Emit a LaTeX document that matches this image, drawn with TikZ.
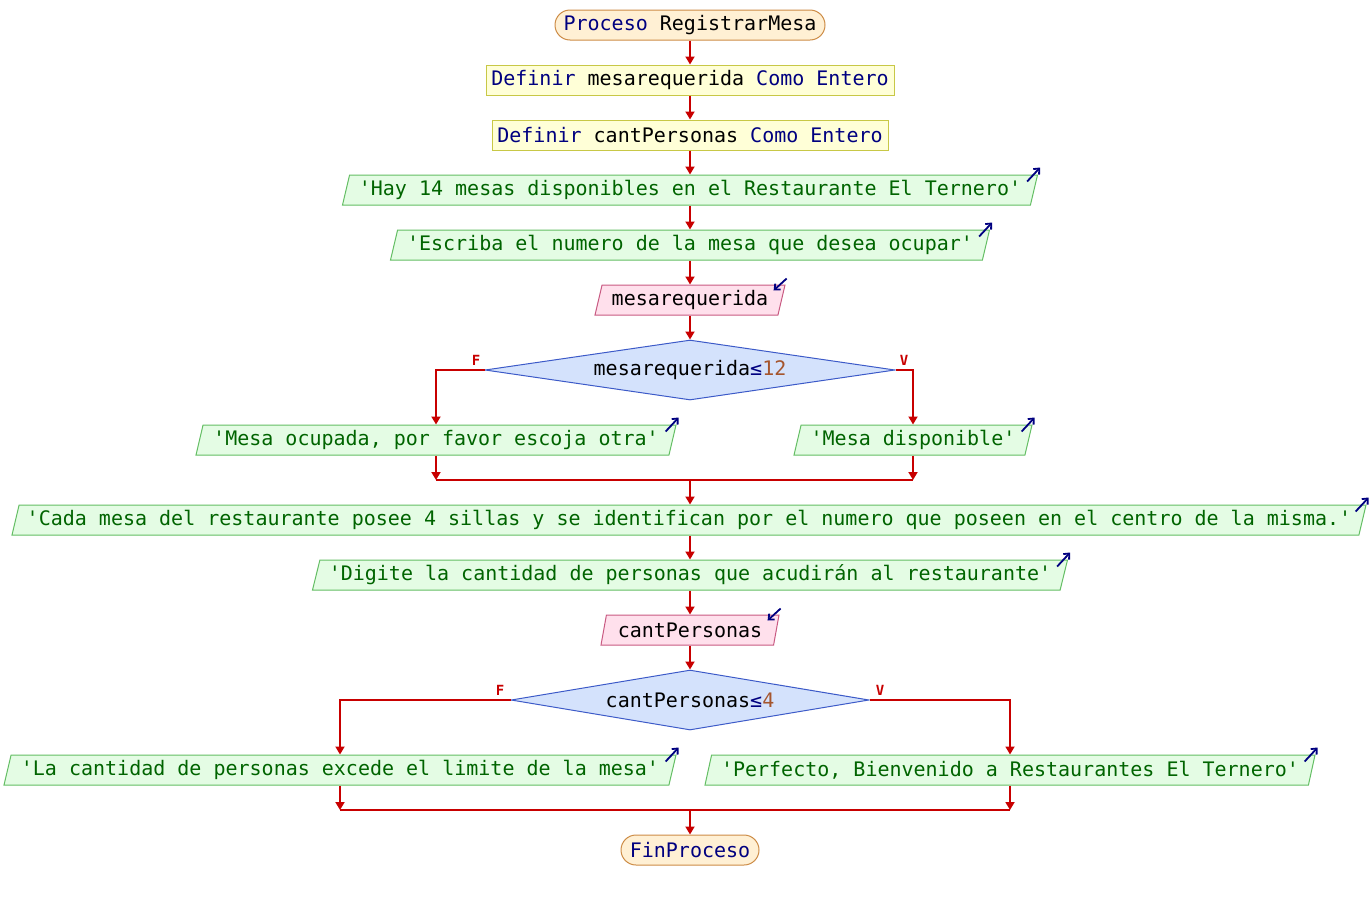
\documentclass[tikz,border=0pt]{standalone}
\usepackage{fontspec}
\usetikzlibrary{shapes.geometric,arrows.meta}
\newfontfamily\flowfont{DejaVu Sans Mono}
\definecolor{kwc}{RGB}{0,0,128}
\definecolor{strc}{RGB}{0,100,0}
\definecolor{numc}{RGB}{165,85,45}
\definecolor{termF}{RGB}{255,240,212}
\definecolor{termB}{RGB}{205,140,70}
\definecolor{defF}{RGB}{255,255,215}
\definecolor{defB}{RGB}{200,200,70}
\definecolor{outF}{RGB}{228,252,228}
\definecolor{outB}{RGB}{100,190,100}
\definecolor{inF}{RGB}{255,224,236}
\definecolor{inB}{RGB}{200,90,130}
\definecolor{condF}{RGB}{212,226,252}
\definecolor{condB}{RGB}{60,90,200}
\definecolor{flowc}{RGB}{200,0,0}
\definecolor{iconc}{RGB}{0,0,128}
\newcommand{\kw}[1]{\textcolor{kwc}{#1}}
\begin{document}
\begin{tikzpicture}[x=1pt,y=-1pt,
  base/.style={font=\flowfont\fontsize{20}{24}\selectfont, inner sep=0pt, minimum height=30pt, line width=1pt},
  term/.style={base, rectangle, draw=termB, fill=termF, rounded corners=15pt},
  defb/.style={base, rectangle, draw=defB, fill=defF},
  para/.style={base, trapezium, trapezium left angle=70, trapezium right angle=110, trapezium stretches body},
  outb/.style={para, draw=outB, fill=outF, text=strc},
  inb/.style={para, draw=inB, fill=inF},
  cond/.style={base, diamond, draw=condB, fill=condF, minimum height=60pt, shape aspect=6},
  flow/.style={draw=flowc, line width=1.8pt, -{Triangle[length=8pt,width=9pt]}},
  seg/.style={draw=flowc, line width=1.8pt},
  icon/.style={draw=iconc, line width=1.8pt, -{Straight Barb[length=4.5pt,width=8pt]}},
  lbl/.style={font=\flowfont\bfseries\fontsize{14}{16}\selectfont, text=flowc, inner sep=0pt}
]
\useasboundingbox (0,0) rectangle (1372,900);

\node[term, minimum width=270pt] (start) at (690,25) {\kw{Proceso} RegistrarMesa};
\node[defb, minimum width=408pt] (def1) at (690,80) {\kw{Definir} mesarequerida \kw{Como} \kw{Entero}};
\node[defb, minimum width=396pt] (def2) at (690,135) {\kw{Definir} cantPersonas \kw{Como} \kw{Entero}};
\node[outb, minimum width=695pt] (hay) at (690,190) {'Hay 14 mesas disponibles en el Restaurante El Ternero'};
\node[outb, minimum width=599pt] (esc) at (690,245) {'Escriba el numero de la mesa que desea ocupar'};
\node[inb, minimum width=190pt] (in1) at (690,300) {mesarequerida};
\node[cond, minimum width=410pt] (c1) at (690,370) {mesarequerida\textcolor{kwc}{≤}\textcolor{numc}{12}};
\node[outb, minimum width=480pt] (o1) at (436,440) {'Mesa ocupada, por favor escoja otra'};
\node[outb, minimum width=238pt] (o2) at (913,440) {'Mesa disponible'};
\node[outb, minimum width=1354pt] (cada) at (689,520) {'Cada mesa del restaurante posee 4 sillas y se identifican por el numero que poseen en el centro de la misma.'};
\node[outb, minimum width=755pt] (dig) at (690,575) {'Digite la cantidad de personas que acudirán al restaurante'};
\node[inb, minimum width=178pt] (in2) at (690,630) {cantPersonas};
\node[cond, minimum width=358pt] (c2) at (690,700) {cantPersonas\textcolor{kwc}{≤}\textcolor{numc}{4}};
\node[outb, minimum width=672pt] (o3) at (340,770) {'La cantidad de personas excede el limite de la mesa'};
\node[outb, minimum width=610pt] (o4) at (1010,770) {'Perfecto, Bienvenido a Restaurantes El Ternero'};
\node[term, minimum width=138pt] (fin) at (690,850) {\kw{FinProceso}};

\node[lbl] (f1) at (476,360) {F};
\node[lbl] (v1) at (904,360) {V};
\node[lbl] (f2) at (500,690) {F};
\node[lbl] (v2) at (880,690) {V};

% output / input icons
\foreach \n in {hay,esc,o1,o2,cada,dig,o3,o4}{
  \draw[icon] ([xshift=-11pt,yshift=-7pt]\n.top right corner) -- ++(13,-14);
}
\foreach \n in {in1,in2}{
  \draw[icon] ([xshift=1pt,yshift=6pt]\n.top right corner) -- ++(-13,12);
}

% main flow
\draw[flow] (start.south) -- (def1.north);
\draw[flow] (def1.south) -- (def2.north);
\draw[flow] (def2.south) -- (hay.center |- hay.north);
\draw[flow] (hay.center |- hay.south) -- (esc.center |- esc.north);
\draw[flow] (esc.center |- esc.south) -- (in1.center |- in1.north);
\draw[flow] (in1.center |- in1.south) -- (c1.north);

\coordinate (j1l) at (436,480);
\coordinate (j1r) at (913,480);
\coordinate (j1) at (690,480);
\draw[flow] (c1.west) -| (o1.center |- o1.north);
\draw[flow] (c1.east) -| (o2.center |- o2.north);
\draw[flow] (o1.center |- o1.south) -- (j1l);
\draw[flow] (o2.center |- o2.south) -- (j1r);
\draw[seg] (j1l) -- (j1r);
\draw[flow] (j1) -- (j1 |- cada.north);

\draw[flow] (j1 |- cada.south) -- (j1 |- dig.north);
\draw[flow] (dig.center |- dig.south) -- (in2.center |- in2.north);
\draw[flow] (in2.center |- in2.south) -- (c2.north);

\coordinate (j2l) at (340,810);
\coordinate (j2r) at (1010,810);
\coordinate (j2) at (690,810);
\draw[flow] (c2.west) -| (o3.center |- o3.north);
\draw[flow] (c2.east) -| (o4.center |- o4.north);
\draw[flow] (o3.center |- o3.south) -- (j2l);
\draw[flow] (o4.center |- o4.south) -- (j2r);
\draw[seg] (j2l) -- (j2r);
\draw[flow] (j2) -- (fin.north);
\end{tikzpicture}
\end{document}
